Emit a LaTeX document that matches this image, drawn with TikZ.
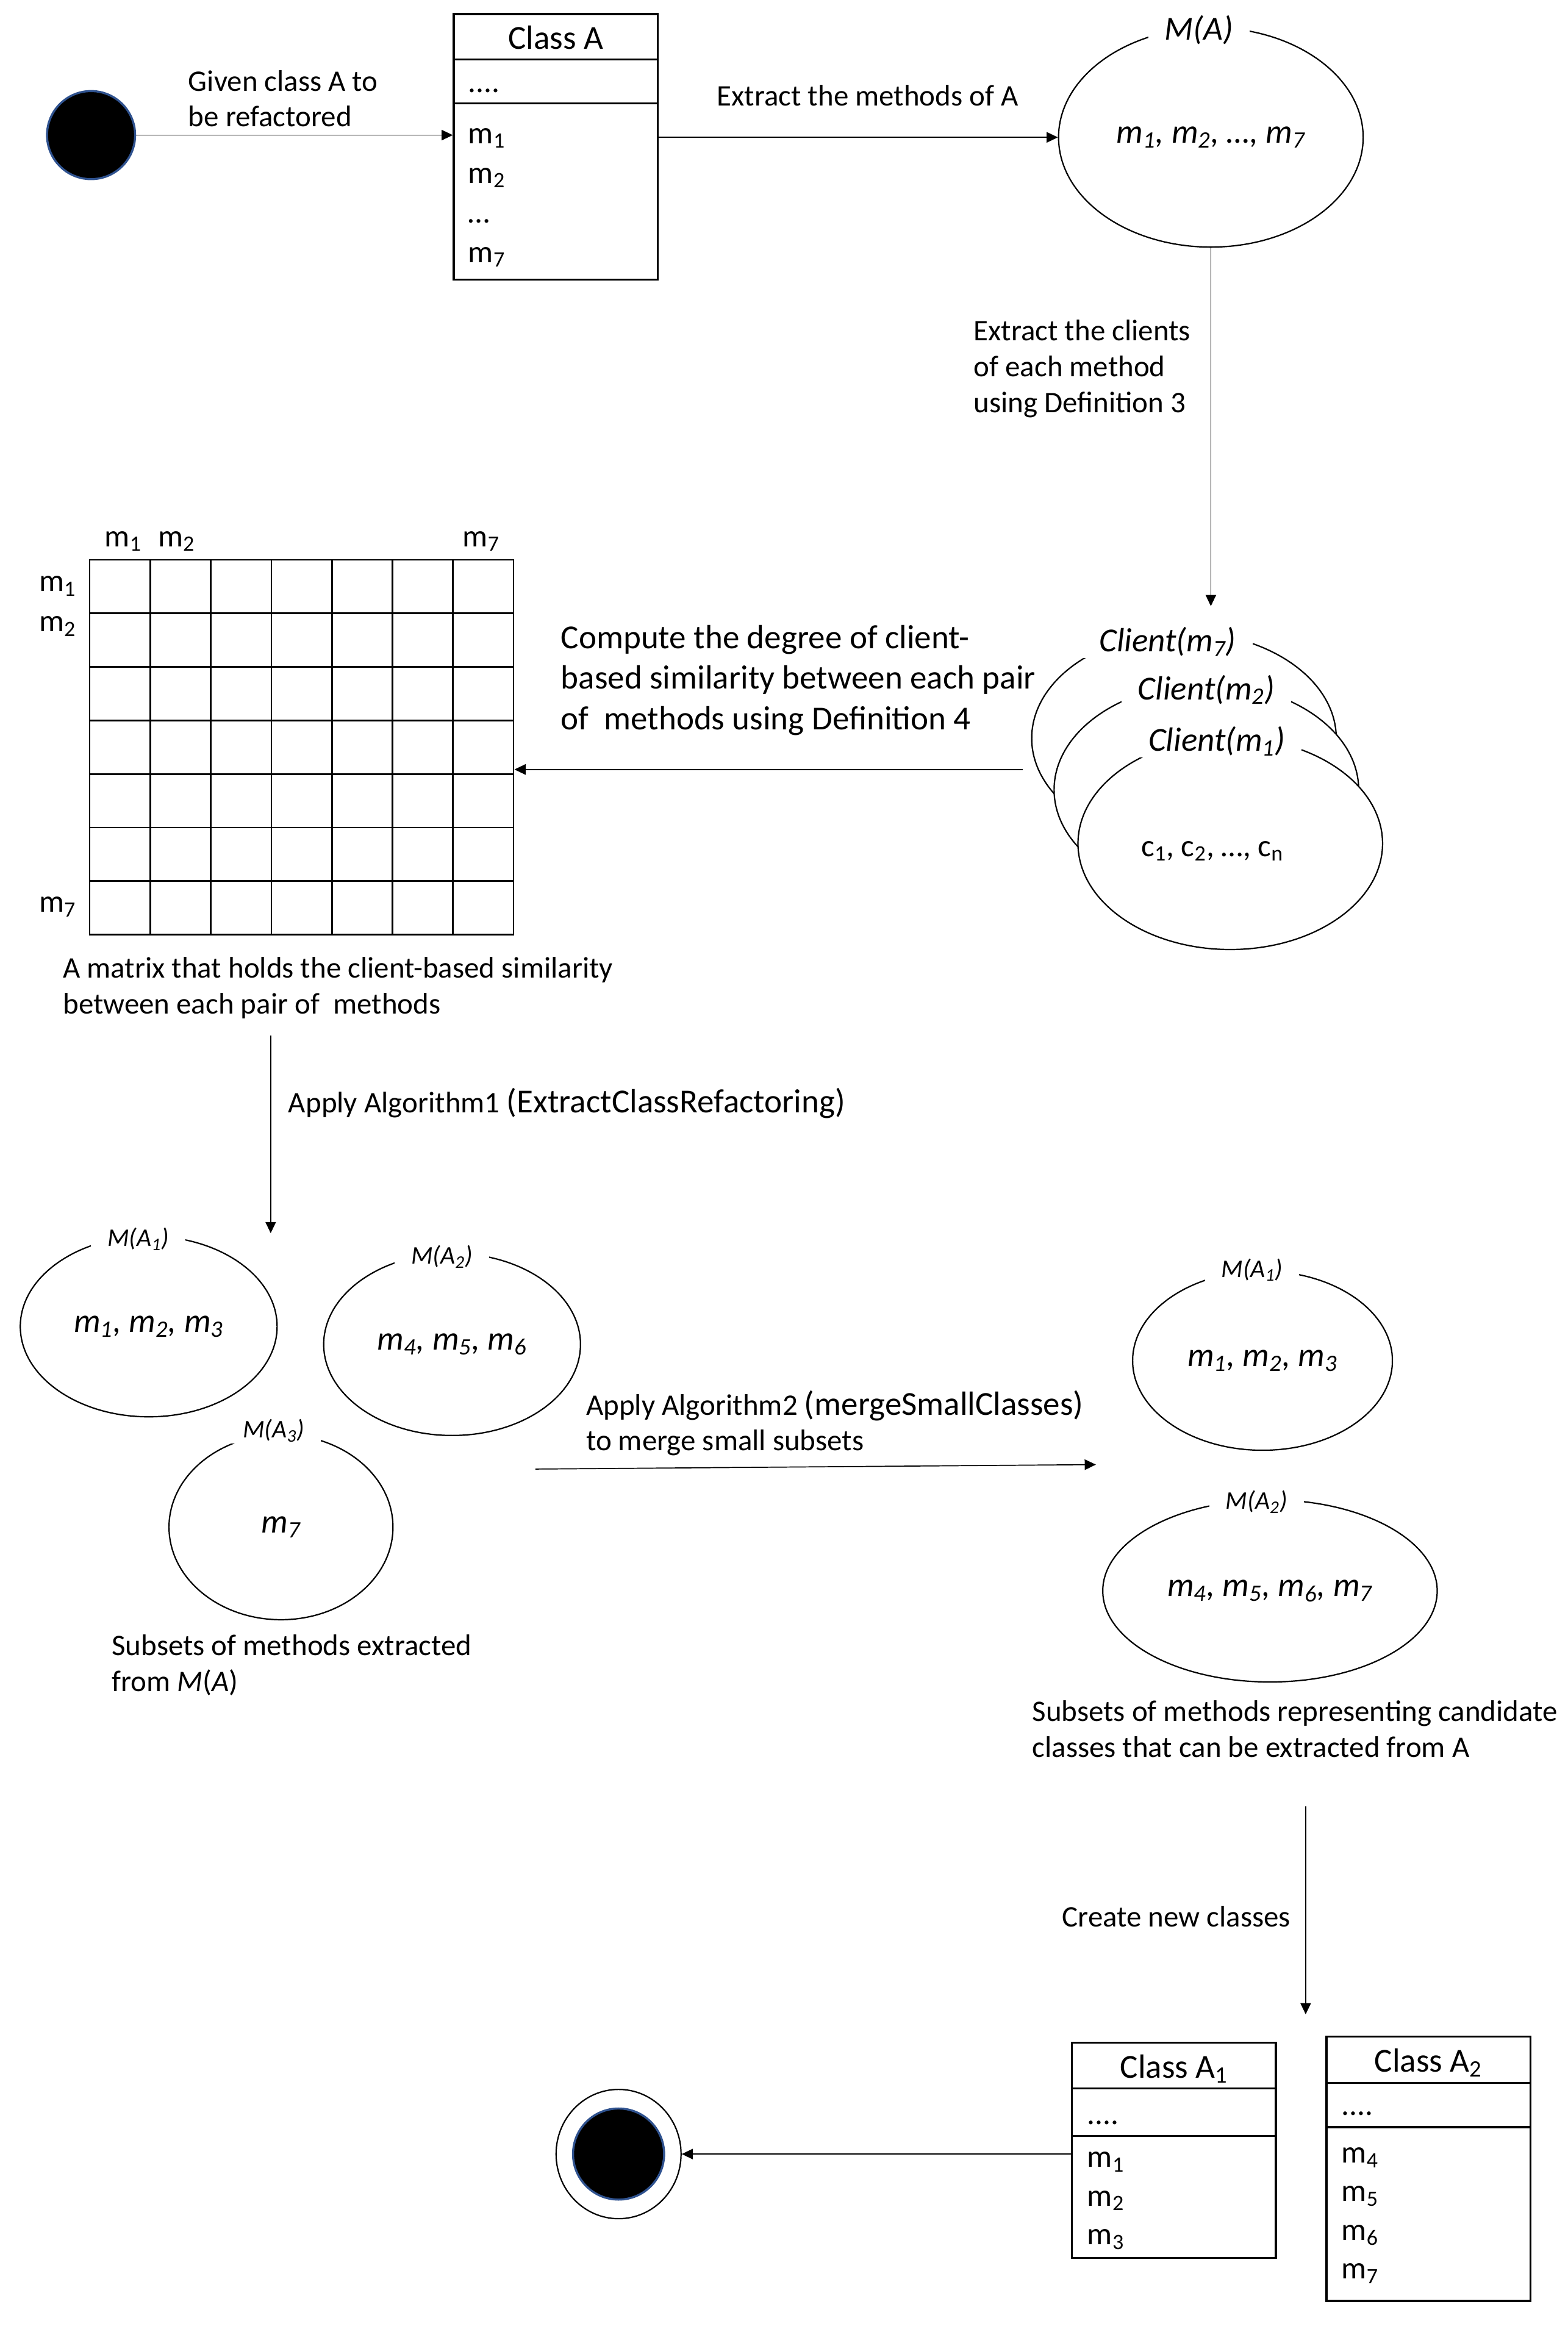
\documentclass[tikz,border=0pt]{standalone}
\usepackage{fontspec}
\setmainfont{Carlito}
\usetikzlibrary{arrows.meta,shapes.geometric}

\definecolor{navyedge}{RGB}{47,82,143}
\newcommand{\txtsize}{\fontsize{20}{24}\selectfont}
\newcommand{\bigsize}{\fontsize{22.5}{27}\selectfont}
\newcommand{\lblsize}{\fontsize{17}{20}\selectfont}
\newcommand{\meth}[1]{m\textsubscript{#1}}

\begin{document}
\begin{tikzpicture}[x=1pt, y=-1pt,
    flow/.style={-{Triangle[length=7.5pt,width=7pt]}, line width=0.7pt},
    subset/.style={draw, ellipse, line width=0.9pt, fill=white, inner sep=0pt, font=\bigsize\itshape},
    setname/.style={fill=white, inner xsep=11pt, inner ysep=1pt, font=\lblsize\itshape},
    bigname/.style={setname, font=\bigsize\itshape},
    classbox/.style={draw, line width=1.3pt, inner sep=0pt},
    divider/.style={line width=1.3pt},
    member/.style={font=\fontsize{21}{24}\selectfont, inner sep=0pt, anchor=base west},
    clstitle/.style={font=\bigsize, inner sep=0pt, anchor=base},
    note/.style={font=\txtsize, align=left, inner sep=0pt, anchor=west},
    gridline/.style={line width=1.1pt}]
    
    \useasboundingbox (0,0) rectangle (1050,1560);
    
    % Initial state
    \node[circle, fill=black, draw=navyedge, line width=1.4pt, minimum size=59pt, inner sep=0pt] (start) at (61,90.5) {};
    
    % Class A
    \node[classbox, minimum width=136.6pt, minimum height=178pt] (clsA) at (372.2,98.4) {};
    \draw[divider] (303.9,39.9) -- (440.5,39.9);
    \draw[divider] (303.9,69.2) -- (440.5,69.2);
    \node[clstitle] (clsAname) at (372.2,33) {Class A};
    \node[member] (clsAattr) at (313.5,62) {....};
    \foreach \entry [count=\k from 0] in {\meth{1},\meth{2},\ldots,\meth{7}}
        \node[member] (clsAm\k) at (313.5,96+26.6*\k) {\entry};
    
    \draw[flow] (start.east) -- (start.east -| clsA.west);
    \node[note] (given) at (126,66) {Given class A to\\be refactored};
    
    % Methods of A
    \node[subset, minimum width=204pt, minimum height=147pt] (setA) at (811,92) {\meth{1}, \meth{2}, \ldots, \meth{7}};
    \node[bigname] (setAname) at (803,20) {M(A)};
    \draw[flow] (clsA.east |- setA.west) -- (setA.west);
    \node[note] (extract) at (480,64) {Extract the methods of A};
    
    % Clients of each method
    \coordinate (clTop) at (811,406);
    \draw[flow] (setA.south) -- (clTop);
    \node[note] (clients) at (652,247) {Extract the clients\\of each method\\using Definition 3};
    
    \node[subset, minimum width=204pt, minimum height=142pt] (cl7) at (793,494.5) {};
    \node[bigname] (cl7name) at (782,430) {Client(\meth{7})};
    \node[subset, minimum width=204pt, minimum height=142pt] (cl2) at (808,529) {};
    \node[bigname] (cl2name) at (808,462) {Client(\meth{2})};
    \node[subset, minimum width=204pt, minimum height=142pt] (cl1) at (824,565) {};
    \node[bigname] (cl1name) at (815,496.5) {Client(\meth{1})};
    \node[font=\fontsize{21}{24}\selectfont, inner sep=0pt] (clitems) at (812,570) {c\textsubscript{1}, c\textsubscript{2}, \ldots, c\textsubscript{n}};
    
    % Similarity matrix
    \node[draw, line width=1.1pt, minimum width=284pt, minimum height=251pt, inner sep=0pt] (simmat) at (202,500.5) {};
    \foreach \i in {1,...,6} {
        \draw[gridline] (60+40.571*\i,375) -- (60+40.571*\i,626);
        \draw[gridline] (60,375+35.857*\i) -- (344,375+35.857*\i);
    }
    \node[member] (colm1) at (70,366) {\meth{1}};
    \node[member] (colm2) at (105.6,366) {\meth{2}};
    \node[member] (colm7) at (309.8,366) {\meth{7}};
    \node[member] (rowm1) at (26,396) {\meth{1}};
    \node[member] (rowm2) at (26,423) {\meth{2}};
    \node[member] (rowm7) at (26,611) {\meth{7}};
    
    \coordinate (clOut) at (685,515.4);
    \draw[flow] (clOut) -- (clOut -| simmat.east);
    \node[note, font=\bigsize] (compute) at (375.5,455.7) {Compute the degree of client-\\based similarity between each pair\\of\ \ methods using Definition 4};
    \node[note] (matcap) at (42,661.7) {A matrix that holds the client-based similarity\\between each pair of\ \ methods};
    
    % Algorithm 1
    \coordinate (alg1s) at (181.3,693.5);
    \coordinate (alg1e) at (181.3,826);
    \draw[flow] (alg1s) -- (alg1e);
    \node[note] (alg1) at (193,739) {Apply Algorithm1 {\bigsize(ExtractClassRefactoring)}};
    
    % Subsets of methods
    \node[subset, minimum width=172pt, minimum height=121pt] (subA1) at (99.6,888.5) {\meth{1}, \meth{2}, \meth{3}};
    \node[setname] (subA1name) at (92.6,830) {M(A\textsubscript{1})};
    \node[subset, minimum width=172pt, minimum height=122pt] (subA2) at (302.8,900.5) {\meth{4}, \meth{5}, \meth{6}};
    \node[setname] (subA2name) at (296,841.8) {M(A\textsubscript{2})};
    \node[subset, minimum width=150pt, minimum height=124pt] (subA3) at (188.2,1022.9) {\meth{7}};
    \node[setname] (subA3name) at (183.3,958.2) {M(A\textsubscript{3})};
    \node[note] (subcap) at (74.7,1115.4) {Subsets of methods extracted\\from \textit{M}(\textit{A})};
    
    % Algorithm 2
    \coordinate (alg2s) at (358.6,984);
    \coordinate (alg2e) at (734,981);
    \draw[flow] (alg2s) -- (alg2e);
    \node[note] (alg2) at (392.4,953.2) {Apply Algorithm2 {\bigsize(mergeSmallClasses)}\\to merge small subsets};
    
    % Candidate classes
    \node[subset, minimum width=174pt, minimum height=120pt] (candA1) at (845.6,911.4) {\meth{1}, \meth{2}, \meth{3}};
    \node[setname] (candA1name) at (838.6,850.7) {M(A\textsubscript{1})};
    \node[subset, minimum width=224pt, minimum height=122pt] (candA2) at (850.6,1065.6) {\meth{4}, \meth{5}, \meth{6}, \meth{7}};
    \node[setname] (candA2name) at (841.6,1006) {M(A\textsubscript{2})};
    \node[note] (candcap) at (691.2,1158.2) {Subsets of methods representing candidate\\classes that can be extracted from A};
    
    % Create new classes
    \coordinate (crs) at (874.5,1210);
    \coordinate (cre) at (874.5,1349.2);
    \draw[flow] (crs) -- (cre);
    \node[note, anchor=east] (create) at (864.5,1283.6) {Create new classes};
    
    % Class A1
    \node[classbox, minimum width=136.5pt, minimum height=144.3pt] (clsA1) at (786.3,1440.3) {};
    \draw[divider] (718.1,1399) -- (854.6,1399);
    \draw[divider] (718.1,1430.8) -- (854.6,1430.8);
    \node[clstitle] (clsA1name) at (786.3,1392) {Class A\textsubscript{1}};
    \node[member] (clsA1attr) at (728.1,1422.9) {....};
    \foreach \entry [count=\k from 0] in {\meth{1},\meth{2},\meth{3}}
        \node[member] (clsA1m\k) at (728.1,1451.7+25.9*\k) {\entry};
    
    % Class A2
    \node[classbox, minimum width=136.5pt, minimum height=177pt] (clsA2) at (956.7,1452.7) {};
    \draw[divider] (888.4,1395) -- (1024.9,1395);
    \draw[divider] (888.4,1424.8) -- (1024.9,1424.8);
    \node[clstitle] (clsA2name) at (956.7,1388) {Class A\textsubscript{2}};
    \node[member] (clsA2attr) at (898.4,1416.9) {....};
    \foreach \entry [count=\k from 0] in {\meth{4},\meth{5},\meth{6},\meth{7}}
        \node[member] (clsA2m\k) at (898.4,1448.7+25.9*\k) {\entry};
    
    % Final state
    \node[ellipse, draw, line width=0.9pt, minimum width=83.7pt, minimum height=86.6pt, inner sep=0pt] (finish) at (414.3,1442.8) {};
    \node[circle, fill=black, draw=navyedge, line width=1.4pt, minimum size=61pt, inner sep=0pt] (finishdot) at (finish) {};
    \draw[flow] (clsA1.west |- finish.east) -- (finish.east);
    
\end{tikzpicture}
\end{document}
